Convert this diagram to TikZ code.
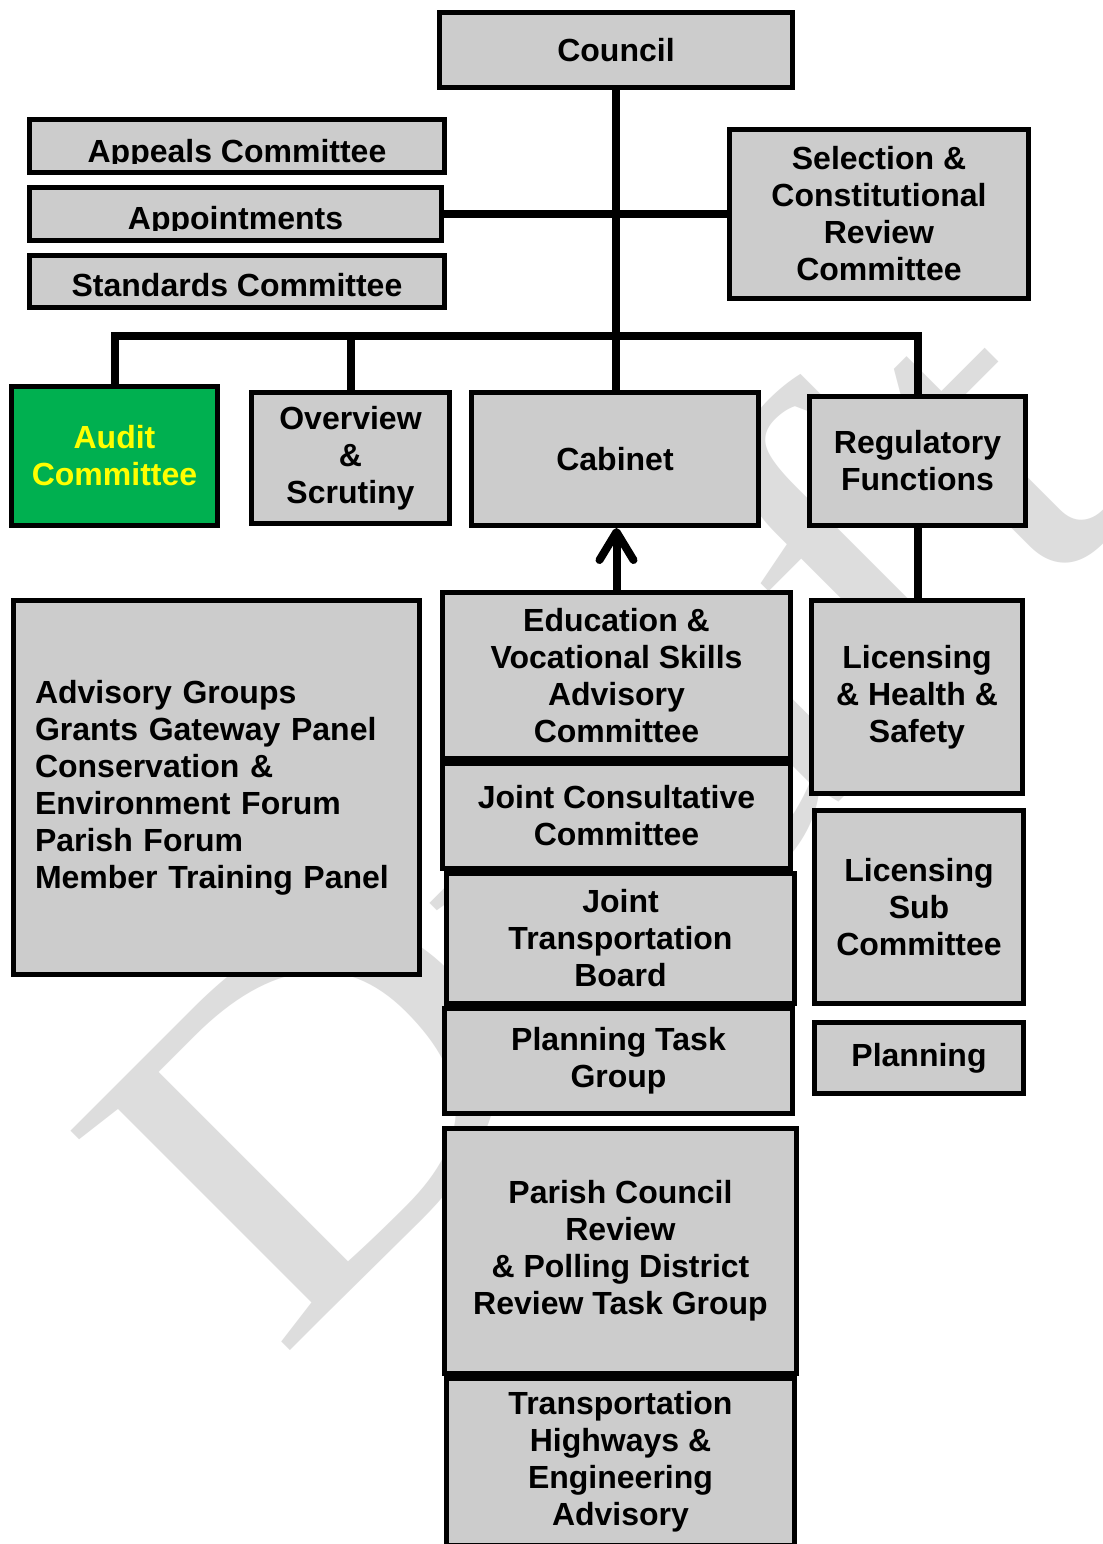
\documentclass[tikz,border=0pt]{standalone}
\usepackage{fontspec}
\setmainfont{Liberation Sans}
\newfontfamily\wmfont{Liberation Serif}
\usetikzlibrary{arrows.meta}
\definecolor{boxgray}{RGB}{204,204,204}
\definecolor{auditgreen}{RGB}{0,176,80}
\definecolor{audityellow}{RGB}{255,255,0}
\definecolor{wmgray}{RGB}{221,221,221}

\begin{document}
\begin{tikzpicture}[x=0.5pt,y=-0.5pt,
  boxfont/.style={font=\fontsize{16pt}{18.5pt}\selectfont\bfseries},
  box/.style={boxfont, draw=black, line width=2.5pt, fill=boxgray, inner sep=0pt,
    align=center, text=black},
  % place a box by the corners of its border line (x1,y1) (x2,y2)
  span/.style n args={4}{minimum width={(#3-#1)*0.5pt}, minimum height={(#4-#2)*0.5pt},
    at={({(#1+#3)/2},{(#2+#4)/2})}},
  lowtext/.style={boxfont, inner sep=0pt, anchor=base, text=black},
  conn/.style={draw=black, line width=4pt},
]
\useasboundingbox (0,0) rectangle (1103,1544);
\fill[white] (0,0) rectangle (1103,1544);

% background watermark
\begin{scope}[shift={(278,1363)}, rotate=45, xscale=1.23]
  \node[text=wmgray, font=\wmfont\fontsize{237pt}{237pt}\selectfont, transform shape,
    anchor=base west, inner sep=0pt] (watermark) at (0,0) {Draft};
\end{scope}

% top level
\node[box, span={439.5}{12.5}{792.5}{87.5}] (council) {Council};

% committees beside the council line (text sits low and is clipped)
\node[box, span={29.5}{119.5}{444.5}{172.5}] (appeals) {};
\begin{scope}
  \clip (27,117) rectangle (447,163.5);
  \node[lowtext] (appeals-text) at (appeals.center |- 0,162) {Appeals Committee};
\end{scope}
\node[box, span={29.5}{187.5}{441.5}{240.5}] (appoint) {};
\begin{scope}
  \clip (27,185) rectangle (444,230.5);
  \node[lowtext] (appoint-text) at (appoint.center |- 0,229) {Appointments};
\end{scope}
\node[box, span={29.5}{255.5}{444.5}{307.5}] (standards) {};
\node[lowtext] (standards-text) at (standards.center |- 0,296) {Standards Committee};

\node[box, span={729.5}{129.5}{1028.5}{298.5}] (selection)
  {Selection \&\\Constitutional\\Review\\Committee};

% second tier
\node[box, fill=auditgreen, text=audityellow, span={11.5}{386.5}{217.5}{525.5}] (audit)
  {Audit\\Committee};
\node[box, span={251.5}{392.5}{449.5}{523.5}] (overview) {Overview\\\&\\Scrutiny};
\node[box, span={471.5}{392.5}{758.5}{525.5}] (cabinet) {Cabinet};
\node[box, span={809.5}{396.5}{1025.5}{525.5}] (regulatory) {Regulatory\\Functions};

% advisory groups
\node[box, span={13.5}{600.5}{419.5}{974.5}, text width=181.5pt, align=left] (advisory)
  {Advisory Groups\\Grants Gateway Panel\\Conservation \&\\Environment Forum\\Parish Forum\\Member Training Panel};

% middle column
\node[box, span={442.5}{592.5}{790.5}{758.5}] (education)
  {Education \&\\Vocational Skills\\Advisory\\Committee};
\node[box, span={442.5}{763.5}{790.5}{868.5}] (jcc) {Joint Consultative\\Committee};
\node[box, span={446.5}{873.5}{794.5}{1003.5}] (jtb) {Joint\\Transportation\\Board};
\node[box, span={444.5}{1008.5}{792.5}{1113.5}] (ptg) {Planning Task\\Group};
\node[box, span={444.5}{1128.5}{796.5}{1373.5}] (parish)
  {Parish Council\\Review\\\& Polling District\\Review Task Group};
\node[box, span={446.5}{1378.5}{794.5}{1545.5}] (thea)
  {Transportation\\Highways \&\\Engineering\\Advisory};

% right column
\node[box, span={811.5}{600.5}{1022.5}{793.5}] (lhs) {Licensing\\\& Health \&\\Safety};
\node[box, span={814.5}{810.5}{1023.5}{1003.5}] (lsc) {Licensing\\Sub\\Committee};
\node[box, span={814.5}{1022.5}{1023.5}{1093.5}] (planning) {Planning};

% connectors
\coordinate (bus) at (0,336);
\draw[conn] (council.south) -- (council.south |- cabinet.north);
\draw[conn] (appoint.east) -- (appoint.east -| selection.west);
\draw[conn] (audit.north) -- (audit.north |- bus) -- (regulatory.north |- bus) -- (regulatory.north);
\draw[conn] (overview.north) -- (overview.north |- bus);
\draw[conn, -{Straight Barb[length=14pt,width=17pt,round]}]
  (education.north) -- (education.north |- cabinet.south);
\draw[conn] (regulatory.south) -- (regulatory.south |- lhs.north);
\end{tikzpicture}
\end{document}
